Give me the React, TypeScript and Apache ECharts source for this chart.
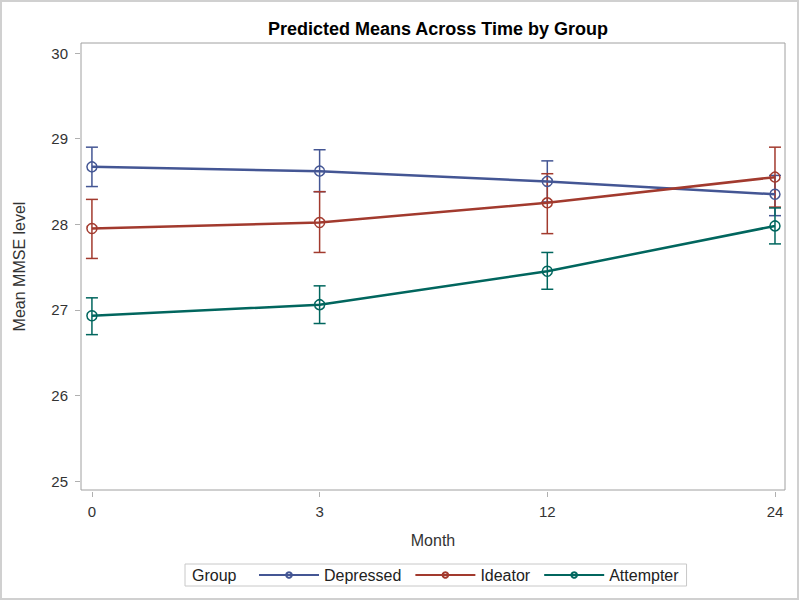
import React, { useEffect, useRef } from "react";
import * as echarts from "echarts";

const months = ["0", "3", "12", "24"];
const groups = ["Depressed", "Ideator", "Attempter"];
const colors = ["#445694", "#A23A2E", "#01665E"];

const depressedMean = [28.67, 28.62, 28.5, 28.35];
const depressedLow = [28.44, 28.38, 28.26, 28.1];
const depressedHigh = [28.9, 28.87, 28.74, 28.57];

const ideatorMean = [27.95, 28.02, 28.25, 28.55];
const ideatorLow = [27.6, 27.67, 27.89, 28.2];
const ideatorHigh = [28.29, 28.38, 28.59, 28.9];

const attempterMean = [26.93, 27.06, 27.45, 27.98];
const attempterLow = [26.71, 26.84, 27.24, 27.77];
const attempterHigh = [27.14, 27.28, 27.67, 28.19];

const yTicks = [25, 26, 27, 28, 29, 30];

const means = [depressedMean, ideatorMean, attempterMean];
const lows = [depressedLow, ideatorLow, attempterLow];
const highs = [depressedHigh, ideatorHigh, attempterHigh];

const FONT = "Liberation Sans, Arial, sans-serif";

export default function App() {
  const ref = useRef<HTMLDivElement>(null);
  useEffect(() => {
    if (!ref.current) return;
    const chart = echarts.init(ref.current, undefined, { renderer: "svg" });

    const lineSeries = groups.map((g, gi) => ({
      name: g,
      type: "line",
      data: means[gi].map((v, i) => [i, v]),
      symbol: "circle",
      symbolSize: 10,
      lineStyle: { color: colors[gi], width: 2.5 },
      itemStyle: { color: "rgba(255,255,255,0)", borderColor: colors[gi], borderWidth: 1.5 },
      z: 3,
    }));

    const errSeries = groups.map((g, gi) => ({
      name: g + " CI",
      type: "custom",
      data: lows[gi].map((lo, i) => [i, lo, highs[gi][i]]),
      z: 2,
      renderItem: (params: any, api: any) => {
        const x = api.value(0);
        const pLo = api.coord([x, api.value(1)]);
        const pHi = api.coord([x, api.value(2)]);
        const cw = 6;
        const style = { stroke: colors[gi], lineWidth: 1.5 };
        return {
          type: "group",
          children: [
            { type: "line", shape: { x1: pLo[0], y1: pLo[1], x2: pHi[0], y2: pHi[1] }, style },
            { type: "line", shape: { x1: pLo[0] - cw, y1: pLo[1], x2: pLo[0] + cw, y2: pLo[1] }, style },
            { type: "line", shape: { x1: pHi[0] - cw, y1: pHi[1], x2: pHi[0] + cw, y2: pHi[1] }, style },
          ],
        };
      },
    }));

    chart.setOption({
      animation: false,
      backgroundColor: "#ffffff",
      title: {
        text: "Predicted Means Across Time by Group",
        left: 433,
        textAlign: "center",
        top: 15,
        textStyle: { fontFamily: FONT, fontSize: 18, fontWeight: "bold", color: "#000" },
      },
      grid: {
        left: 81,
        top: 43,
        right: 15,
        bottom: 111,
        show: true,
        borderColor: "#a0a0a0",
        borderWidth: 1,
        backgroundColor: "transparent",
      },
      xAxis: {
        type: "value",
        min: -0.048,
        max: 3.044,
        name: "Month",
        nameLocation: "middle",
        nameGap: 40,
        nameTextStyle: { fontFamily: FONT, fontSize: 16, color: "#333" },
        offset: 2,
        axisLine: { show: false, onZero: false },
        axisTick: { show: true, inside: false, length: 5, customValues: [0, 1, 2, 3], lineStyle: { color: "#b0b0b0" } },
        axisLabel: {
          customValues: [0, 1, 2, 3],
          formatter: (v: number) => months[Math.round(v)],
          fontFamily: FONT,
          fontSize: 15,
          color: "#333",
          margin: 12,
        },
        splitLine: { show: false },
      },
      yAxis: {
        type: "value",
        min: 24.895,
        max: 30.117,
        name: "Mean MMSE level",
        nameLocation: "middle",
        nameGap: 53,
        nameTextStyle: { fontFamily: FONT, fontSize: 16, color: "#333" },
        offset: 1,
        axisLine: { show: false, onZero: false },
        axisTick: { show: true, inside: false, length: 5, customValues: yTicks, lineStyle: { color: "#b0b0b0" } },
        axisLabel: {
          customValues: yTicks,
          fontFamily: FONT,
          fontSize: 15,
          color: "#333",
          margin: 12,
        },
        splitLine: { show: false },
      },
      legend: {
        data: groups,
        left: 185,
        top: 564,
        orient: "horizontal",
        itemWidth: 60,
        itemHeight: 7,
        itemGap: 13,
        padding: [3, 8, 3, 73],
        borderColor: "#c8c8c8",
        borderWidth: 1,
        lineStyle: { width: 2 },
        textStyle: { fontFamily: FONT, fontSize: 16, color: "#222" },
        selectedMode: false,
      },
      graphic: [
        {
          type: "rect",
          shape: { x: 1, y: 1, width: 797, height: 598 },
          style: { fill: "none", stroke: "#d0d0d0", lineWidth: 2 },
          silent: true,
        },
        {
          type: "text",
          left: 192,
          top: 567,
          style: { text: "Group", fontFamily: FONT, fontSize: 16, fill: "#222" },
        },
      ],
      series: [...errSeries, ...lineSeries],
    });
    return () => chart.dispose();
  }, []);
  return (
    <div
      ref={ref}
      style={{ position: "fixed", left: 0, top: 0, width: 800, height: 601 }}
    />
  );
}
